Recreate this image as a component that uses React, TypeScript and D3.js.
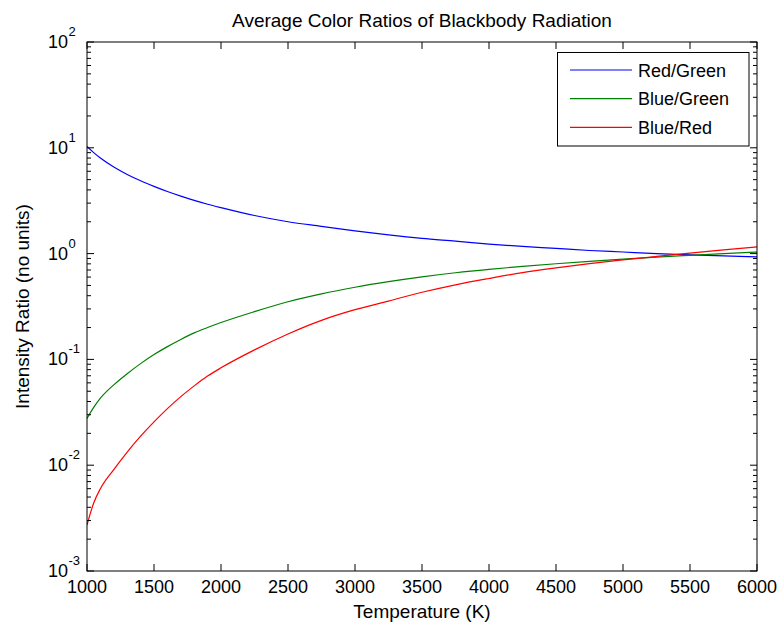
import React from "react";
import * as d3 from "d3";

const temps = [1000, 1050, 1100, 1200, 1300, 1400, 1500, 1600, 1700, 1800, 1900, 2000, 2250, 2500, 2750, 3000, 3250, 3500, 3750, 4000, 4250, 4500, 4750, 5000, 5250, 5500, 5750, 6000];
const redGreen = [10.3, 9.0, 8.0, 6.58, 5.6, 4.88, 4.32, 3.86, 3.49, 3.18, 2.93, 2.72, 2.29, 2.0, 1.81, 1.64, 1.5, 1.39, 1.31, 1.23, 1.17, 1.12, 1.07, 1.035, 1.0, 0.973, 0.95, 0.933];
const blueGreen = [0.0277, 0.0352, 0.043, 0.0575, 0.0733, 0.0912, 0.111, 0.132, 0.1545, 0.178, 0.2, 0.223, 0.283, 0.351, 0.417, 0.481, 0.543, 0.603, 0.659, 0.71, 0.757, 0.802, 0.845, 0.887, 0.927, 0.964, 1.0, 1.033];
const blueRed = [0.00272, 0.0044, 0.006, 0.0091, 0.0133, 0.0188, 0.0257, 0.0343, 0.0445, 0.0562, 0.0695, 0.0832, 0.123, 0.174, 0.234, 0.295, 0.356, 0.431, 0.507, 0.582, 0.661, 0.733, 0.804, 0.871, 0.94, 1.012, 1.084, 1.156];

const seriesNames = ["Red/Green", "Blue/Green", "Blue/Red"];
const seriesColors = ["#0000ff", "#008000", "#ff0000"];
const xTicks = [1000, 1500, 2000, 2500, 3000, 3500, 4000, 4500, 5000, 5500, 6000];
const yExponents = [-3, -2, -1, 0, 1, 2];

const W = 781, H = 627;
const L = 87, R = 757, T = 42, B = 571;
const FONT = "Arial, 'Liberation Sans', Helvetica, sans-serif";

export default function App() {
  const x = d3.scaleLinear().domain([1000, 6000]).range([L, R]);
  const y = d3.scaleLog().domain([1e-3, 1e2]).range([B, T]);
  const series = [redGreen, blueGreen, blueRed];
  const line = d3
    .line<[number, number]>()
    .x((d) => x(d[0]))
    .y((d) => y(d[1]))
    .curve(d3.curveMonotoneX);

  const minor: number[] = [];
  for (let e = -3; e < 2; e++) {
    for (let m = 2; m <= 9; m++) minor.push(m * Math.pow(10, e));
  }
  const major = 7;
  const minorLen = 4;

  return (
    <svg width={W} height={H} style={{ position: "absolute", left: 0, top: 0, background: "#fff" }} fontFamily={FONT}>
      <rect x={0} y={0} width={W} height={H} fill="#fff" />
      <clipPath id="plotclip">
        <rect x={L} y={T} width={R - L} height={B - T} />
      </clipPath>
      <g clipPath="url(#plotclip)">
        {series.map((vals, i) => (
          <path
            key={i}
            d={line(temps.map((t, k) => [t, vals[k]] as [number, number])) || ""}
            fill="none"
            stroke={seriesColors[i]}
            strokeWidth={1.2}
          />
        ))}
      </g>
      <rect x={L} y={T} width={R - L} height={B - T} fill="none" stroke="#000" strokeWidth={1} />
      {xTicks.map((t) => (
        <g key={"xt" + t}>
          <line x1={x(t)} x2={x(t)} y1={B} y2={B - major} stroke="#000" />
          <line x1={x(t)} x2={x(t)} y1={T} y2={T + major} stroke="#000" />
          <text x={x(t)} y={593} textAnchor="middle" fontSize={18} fill="#000">
            {t}
          </text>
        </g>
      ))}
      {yExponents.map((e) => {
        const yy = y(Math.pow(10, e));
        return (
          <g key={"ye" + e}>
            <line x1={L} x2={L + major} y1={yy} y2={yy} stroke="#000" />
            <line x1={R} x2={R - major} y1={yy} y2={yy} stroke="#000" />
            <text x={68} y={yy + 6} textAnchor="end" fontSize={18} fill="#000">
              10
            </text>
            <text x={68.5} y={yy - 6} textAnchor="start" fontSize={13} fill="#000">
              {e}
            </text>
          </g>
        );
      })}
      {minor.map((v, i) => (
        <g key={"ym" + i}>
          <line x1={L} x2={L + minorLen} y1={y(v)} y2={y(v)} stroke="#000" />
          <line x1={R} x2={R - minorLen} y1={y(v)} y2={y(v)} stroke="#000" />
        </g>
      ))}
      <text x={(L + R) / 2} y={27} textAnchor="middle" fontSize={19} fill="#000">
        Average Color Ratios of Blackbody Radiation
      </text>
      <text x={(L + R) / 2} y={618} textAnchor="middle" fontSize={19} fill="#000">
        Temperature (K)
      </text>
      <text
        transform={`translate(29, ${(T + B) / 2}) rotate(-90)`}
        textAnchor="middle"
        fontSize={19}
        fill="#000"
      >
        Intensity Ratio (no units)
      </text>
      <rect x={557.5} y={52.5} width={191.5} height={93.5} fill="#fff" stroke="#000" strokeWidth={1} />
      {seriesNames.map((n, i) => {
        const ly = 70 + i * 28.7;
        return (
          <g key={n}>
            <line x1={570} x2={632} y1={ly} y2={ly} stroke={seriesColors[i]} strokeWidth={1.2} />
            <text x={638} y={ly + 6.5} fontSize={18} fill="#000">
              {n}
            </text>
          </g>
        );
      })}
    </svg>
  );
}
